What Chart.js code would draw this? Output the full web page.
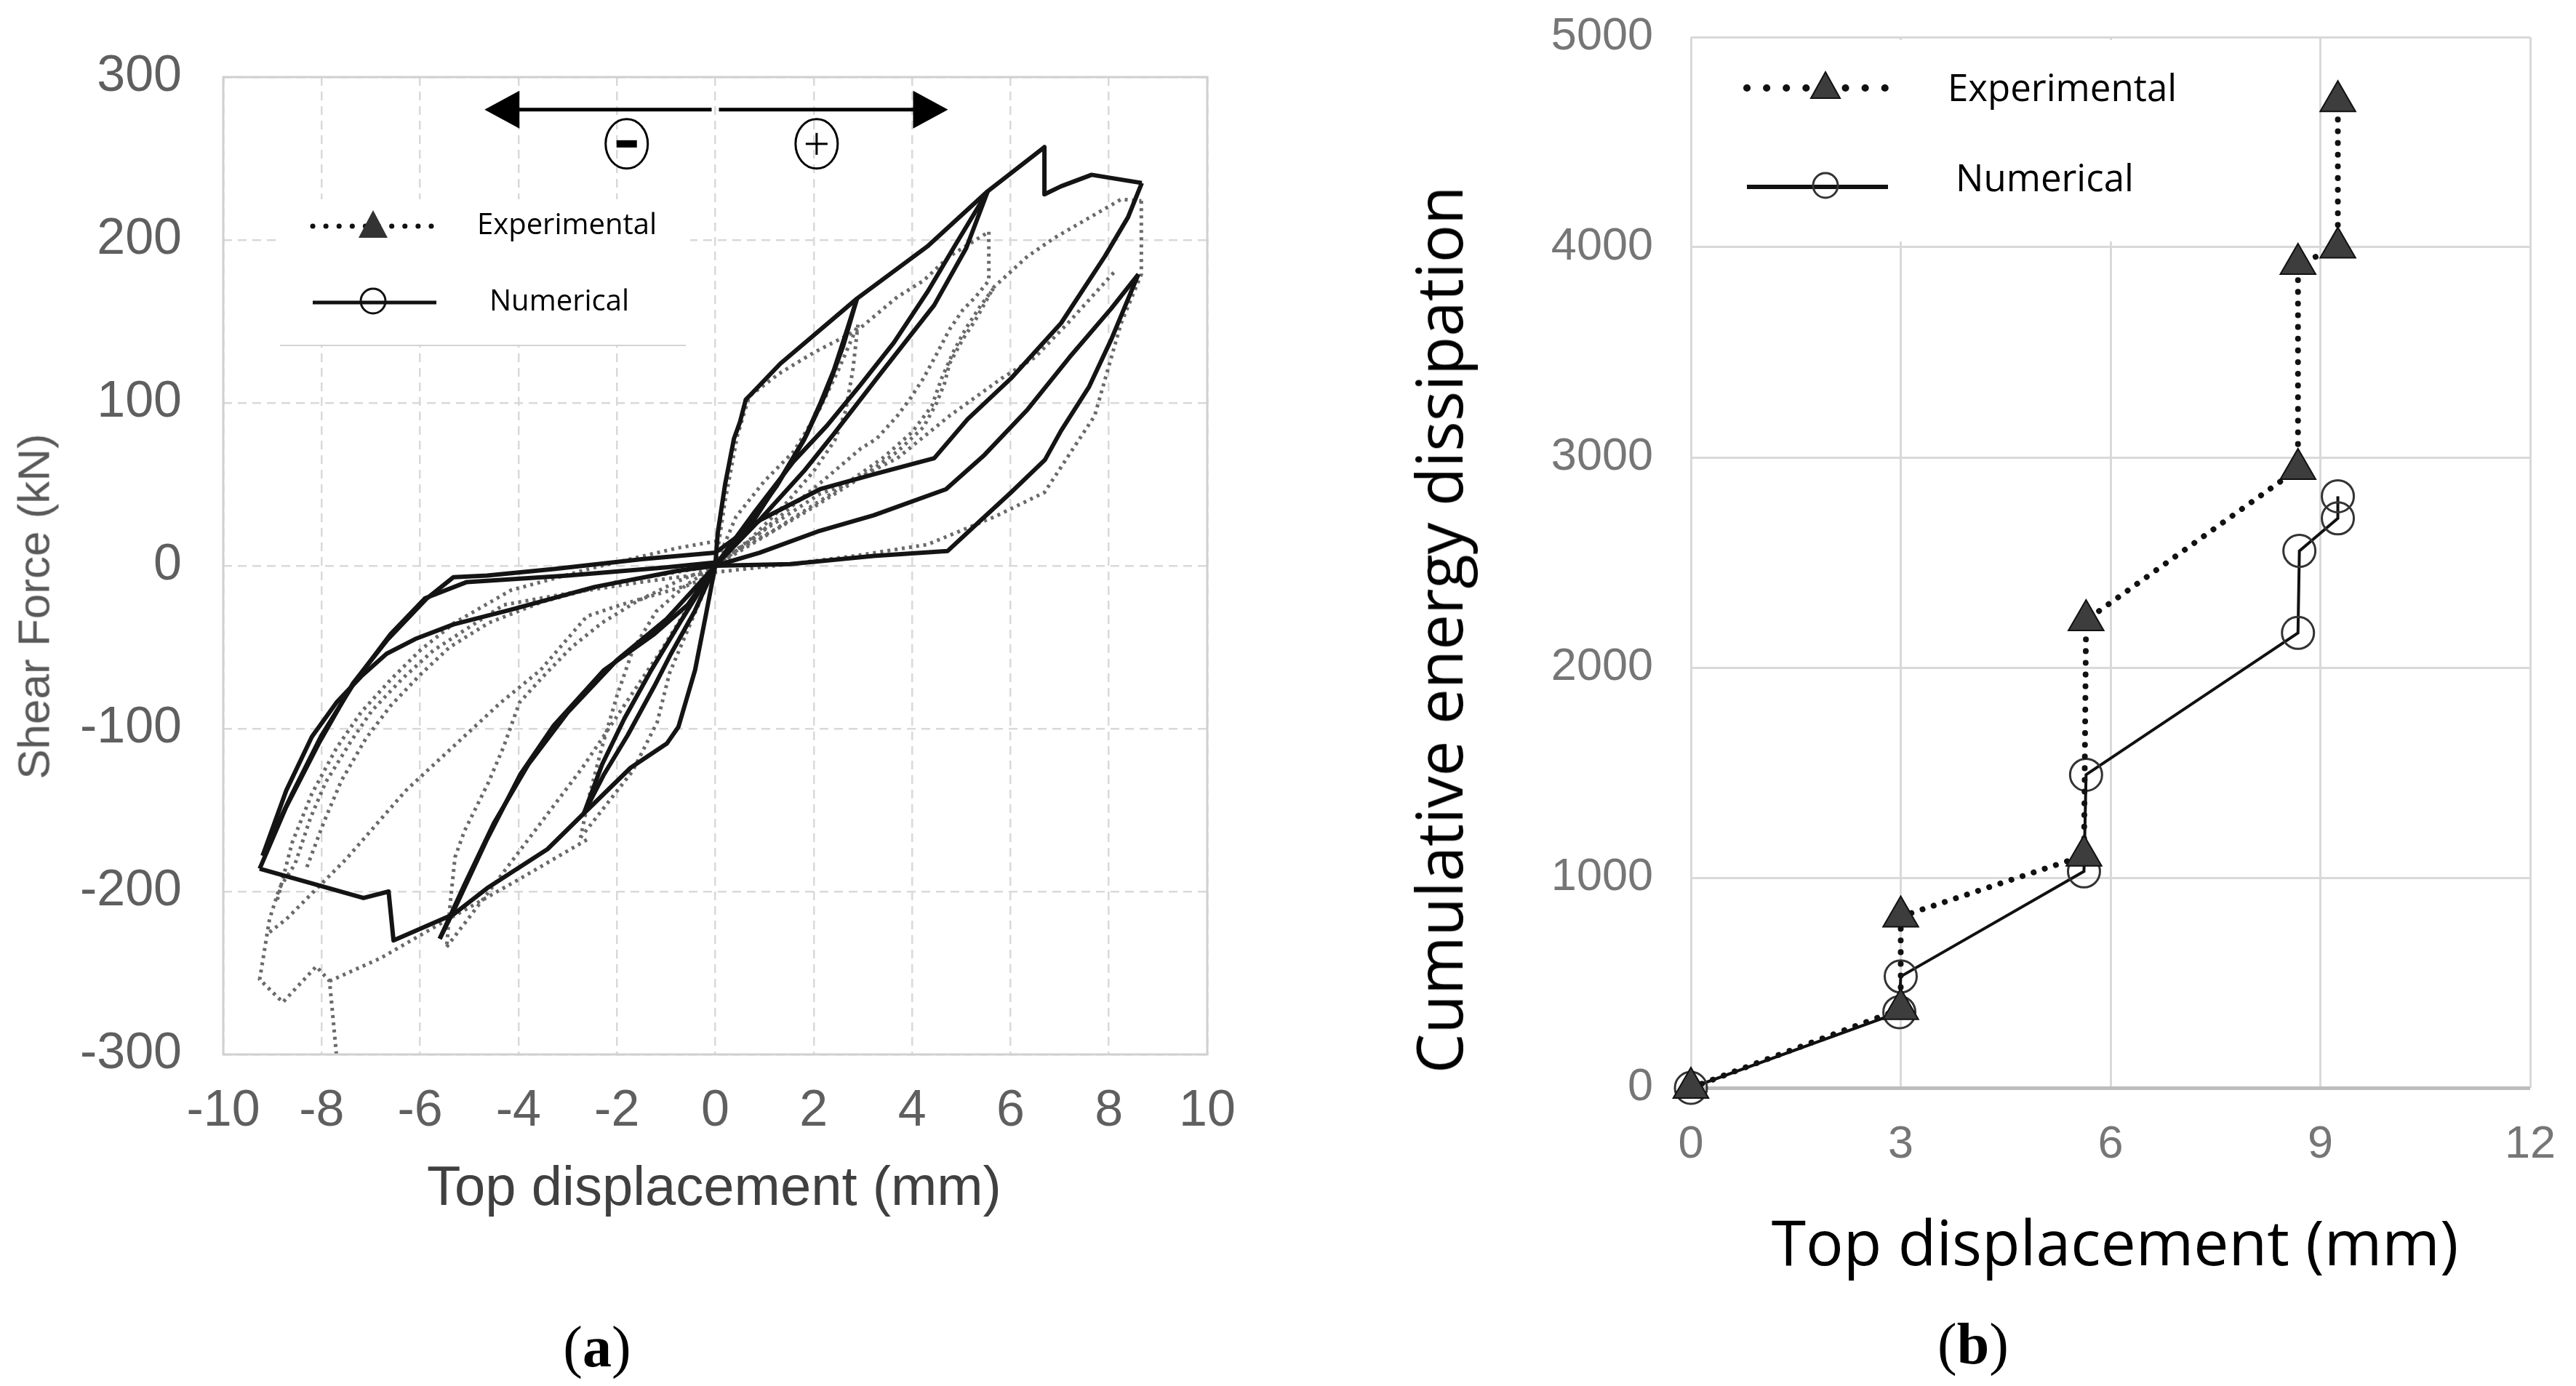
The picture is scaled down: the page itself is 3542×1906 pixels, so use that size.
<!DOCTYPE html>
<html lang="en">
<head>
<meta charset="UTF-8">
<title>Shear force hysteresis and cumulative energy dissipation</title>
<script src="https://cdn.jsdelivr.net/npm/chart.js"></script>
<style>
  body { margin: 0; width: 3542px; height: 1906px; background: #fff; position: relative; overflow: hidden; }
  .box { position: absolute; }
  .txt { position: absolute; white-space: nowrap; line-height: 1; color: #000; }
  .rot { transform: translate(-50%, -50%) rotate(-90deg); }
  .ctr { transform: translate(-50%, -50%); }
</style>
</head>
<body>
<div class="box" style="left:0;top:0;width:1760px;height:1600px"><canvas id="chartA"></canvas></div>
<div class="box" style="left:1900px;top:0;width:1642px;height:1650px"><canvas id="chartB"></canvas></div>

<!-- (a) texts -->
<div class="txt rot" style="left:46px;top:834px;font:62px 'Liberation Sans',Arial,sans-serif;color:#595959">Shear Force (kN)</div>
<div class="txt ctr" style="left:982px;top:1630px;font:76px 'Liberation Sans',Arial,sans-serif;color:#404040">Top displacement (mm)</div>
<div class="txt" style="left:656px;top:279px;font:40px 'Open Sans',sans-serif">Experimental</div>
<div class="txt" style="left:673px;top:384px;font:40px 'Open Sans',sans-serif">Numerical</div>
<div class="txt ctr" style="left:821px;top:1852px;font:80px 'Liberation Serif',serif">(<b>a</b>)</div>

<!-- (b) texts -->
<div class="txt rot" style="left:1977px;top:866px;font:87px 'Open Sans',sans-serif">Cumulative energy dissipation</div>
<div class="txt ctr" style="left:2908px;top:1706px;font:86px 'Open Sans',sans-serif">Top displacement (mm)</div>
<div class="txt" style="left:2678px;top:84px;font:51px 'Open Sans',sans-serif">Experimental</div>
<div class="txt" style="left:2689px;top:208px;font:51px 'Open Sans',sans-serif">Numerical</div>
<div class="txt ctr" style="left:2713px;top:1848px;font:80px 'Liberation Serif',serif">(<b>b</b>)</div>

<script>
// ---- (a) hysteresis, numerical (solid black), [displacement mm, force kN]
const numEnvelopePos = [[0,0],[0.05,20],[0.2,50],[0.38,78],[0.5,88],[0.62,102],[0.75,106],[1.32,124],[2.88,164],[4.31,196],[5.54,230],[6.69,257],[6.69,228],[7.03,233],[7.65,240],[8.26,237],[8.67,235]];
const numEnvelopeNeg = [[0,0],[-0.19,-30],[-0.41,-64],[-0.75,-99],[-0.98,-109],[-1.72,-124],[-2.67,-152],[-3.41,-174],[-4.64,-198],[-5.32,-214],[-6.54,-230],[-6.64,-200],[-7.15,-204],[-9.26,-186]];
const numCycle1Up = [[0,0],[0.7,24],[1.3,52],[1.85,80],[2.25,106],[2.6,135],[2.88,164]];
const numCycle1Down = [[2.88,164],[2.68,145],[2.41,120],[2.14,100],[1.8,77],[1.25,49],[0.57,21],[0,0]];
const numCycle1NegDown = [[0,0],[-0.42,-28],[-0.9,-54],[-1.24,-74],[-1.78,-104],[-2.26,-128],[-2.67,-152]];
const numCycle1NegUp = [[-2.67,-152],[-2.3,-122],[-1.85,-94],[-1.3,-64],[-0.7,-34],[0,0]];
const numCycle2Down = [[5.54,230],[4.9,198],[4.31,168],[3.63,137],[2.95,111],[2.27,86],[1.59,64],[0.8,33],[0,0]];
const numCycle2Up = [[0,0],[0.9,28],[1.8,58],[2.41,81],[3.36,118],[4.45,160],[5.1,195],[5.54,230]];
const numCycle2NegDown = [[0,0],[-0.56,-24],[-1.24,-42],[-2.26,-64],[-3.28,-98],[-3.96,-128],[-4.64,-168],[-5.32,-212],[-5.6,-229]];
const numCycle2NegUp = [[-5.6,-229],[-5.1,-196],[-4.5,-158],[-3.8,-122],[-3.0,-90],[-2.0,-58],[-1.0,-33],[0,0]];
const numCycle3Unload = [[8.67,235],[8.39,214],[7.92,190],[7.03,149],[6.01,115],[5.13,90],[4.45,66],[3.2,56],[2.13,47],[0.91,28],[0,8]];
const numCycle3NegOuter = [[0,8],[-1.5,4],[-3.28,-2],[-4.64,-6],[-5.32,-7],[-5.86,-20],[-6.68,-46],[-7.36,-72],[-8.04,-108],[-8.72,-148],[-9.26,-186]];
const numCycle3NegInner = [[-9.2,-178],[-8.6,-140],[-8.0,-104],[-7.3,-70],[-6.6,-42],[-5.9,-20],[-5.05,-10],[-3.0,-6],[-1.0,-1],[0,2]];
const numCycle3NegLower = [[0,0],[-0.75,-3],[-2.45,-13],[-4.15,-27],[-5.32,-36],[-6.1,-45],[-6.68,-54],[-7.2,-68],[-7.7,-84],[-8.2,-105],[-8.72,-138],[-9.2,-178]];
const numCycle3Reload = [[0,0],[1.52,1],[3.22,6],[4.72,9],[5.4,28],[6.01,45],[6.7,65],[7.03,83],[7.6,110],[8.05,139],[8.6,179]];
const numCycle3Return = [[8.6,179],[8.05,158],[7.2,128],[6.35,96],[5.47,68],[4.69,47],[3.22,31],[2.08,21],[0.9,8],[0,0]];

// ---- (a) hysteresis, experimental (grey dotted)
const expCycle1Up = [[0,0],[0.42,30],[1.0,52],[1.59,70],[2.1,95],[2.5,120],[2.9,148]];
const expCycle1Down = [[2.9,148],[2.8,121],[2.65,95],[2.43,77],[2.0,58],[1.4,37],[0.7,16],[0,0]];
const expCycle1NegDown = [[0,0],[-0.6,-12],[-1.2,-28],[-1.68,-52],[-2.0,-80],[-2.3,-111],[-2.55,-140],[-2.74,-167]];
const expCycle1NegUp = [[-2.74,-167],[-2.3,-150],[-1.68,-126],[-1.18,-96],[-0.93,-66],[-0.5,-35],[0,0]];
const expCycle2Up = [[0,0],[0.2,40],[0.45,80],[0.69,104],[1.3,118],[2.01,131],[2.91,145],[3.7,165],[4.23,175],[4.76,190],[5.56,205]];
const expCycle2Down = [[5.56,205],[5.56,175],[5.29,165],[5.03,157],[4.76,145],[4.5,130],[4.23,115],[3.97,103],[3.7,92],[3.28,78],[2.96,72],[2.3,55],[1.5,35],[0.7,15],[0,0]];
const expCycle2NegDown = [[0,0],[-0.8,-10],[-1.6,-22],[-2.3,-35],[-2.92,-50],[-3.5,-68],[-3.98,-84],[-4.3,-111],[-4.61,-133],[-5.1,-163],[-5.29,-179],[-5.39,-208],[-5.46,-234]];
const expCycle2NegUp = [[-5.46,-234],[-4.6,-200],[-3.6,-160],[-2.7,-124],[-1.9,-88],[-1.1,-52],[-0.4,-18],[0,0]];
const expCycle3Up = [[0,0],[1.0,18],[2.0,36],[3.0,55],[3.7,70],[4.23,85],[4.5,100],[4.66,112],[4.76,124],[5.03,139],[5.29,151],[5.66,171],[6.35,190],[6.88,201],[7.62,214],[8.25,225],[8.66,224]];
const expCycle3Up2 = [[0,2],[1.2,22],[2.4,45],[3.4,66],[4.0,82],[4.4,98],[4.6,115],[4.85,132],[5.1,146],[5.4,160],[5.7,172]];
const expCycle3Down = [[8.66,224],[8.66,179],[8.25,149],[7.71,92],[6.69,45],[5.67,30],[4.31,13],[2.82,6],[1.5,1],[0,-4]];
const expCycle3Return = [[8.1,180],[7.2,150],[6.5,128],[5.82,115],[4.76,92],[3.7,66],[2.65,50],[2.12,44],[1.0,22],[0,0]];
const expCycle3NegDown = [[0,-4],[-1.5,-10],[-3.0,-17],[-4.3,-24],[-5.73,-52],[-6.35,-69],[-6.98,-89],[-7.41,-108],[-7.92,-133],[-8.23,-155],[-8.54,-183],[-8.86,-198],[-9.06,-217],[-9.26,-254],[-8.79,-268],[-8.11,-246],[-7.84,-255],[-7.7,-300]];
const expCycle3NegBand = [[-8.3,-185],[-7.95,-157],[-7.6,-132],[-7.1,-106],[-6.6,-86],[-6.0,-67],[-5.4,-50],[-4.6,-35],[-3.5,-22],[-2.0,-10],[0,0]];
const expCycle3NegReturn = [[-7.84,-255],[-6.81,-241],[-5.66,-221],[-3.96,-192],[-2.6,-168]];
const expCycle3Straight = [[-9.06,-225],[-8.72,-217],[-7.5,-180],[-6.29,-138],[-4.36,-84],[-3.55,-64],[-2.61,-31],[-1.92,-24],[-0.56,-12],[0,-5]];
const expCycle3NegInner = [[-8.9,-205],[-8.6,-170],[-8.2,-140],[-7.7,-112],[-7.2,-90],[-6.6,-70],[-6.0,-52],[-5.3,-35],[-4.15,-15],[-2.45,-1],[-0.75,11],[0,15]];

// ---- (b) cumulative energy dissipation
const dispExp = [0, 3.0, 3.0, 5.62, 5.65, 8.68, 8.68, 9.25, 9.25];
const energyExp = [0, 375, 815, 1105, 2225, 2945, 3920, 3998, 4695];
const dispNum = [0, 2.98, 3.0, 5.62, 5.65, 8.68, 8.7, 9.25, 9.25];
const energyNum = [0, 360, 530, 1030, 1490, 2165, 2555, 2710, 2815];

const forceTicks = [-300, -200, -100, 0, 100, 200, 300];
const dispTicksA = [-10, -8, -6, -4, -2, 0, 2, 4, 6, 8, 10];
const dispTicksB = [0, 3, 6, 9, 12];
const energyTicks = [0, 1000, 2000, 3000, 4000, 5000];

const toXY = pts => pts.map(([x, y]) => ({ x, y }));

const numBranches = [numEnvelopePos, numEnvelopeNeg, numCycle1Up, numCycle1Down, numCycle1NegDown, numCycle1NegUp,
  numCycle2Down, numCycle2Up, numCycle2NegDown, numCycle2NegUp, numCycle3Unload, numCycle3NegOuter,
  numCycle3NegInner, numCycle3NegLower, numCycle3Reload, numCycle3Return];
const expBranches = [expCycle1Up, expCycle1Down, expCycle1NegDown, expCycle1NegUp, expCycle2Up, expCycle2Down,
  expCycle2NegDown, expCycle2NegUp, expCycle3Up, expCycle3Up2, expCycle3Down, expCycle3Return, expCycle3NegDown,
  expCycle3NegBand, expCycle3NegReturn, expCycle3Straight, expCycle3NegInner];

const datasetsA = [];
numBranches.forEach(b => datasetsA.push({
  data: toXY(b), showLine: true, pointRadius: 0, borderColor: '#141414', borderWidth: 6,
  borderJoinStyle: 'round', order: 0
}));
expBranches.forEach(b => datasetsA.push({
  data: toXY(b), showLine: true, pointRadius: 0, borderColor: '#6a6a6a', borderWidth: 5,
  borderDash: [4, 6], order: 1
}));

function setTicks(list) {
  return function (scale) { scale.ticks = list.map(v => ({ value: v })); };
}

// legend, frame and the +/- arrows of chart (a)
const decorA = {
  id: 'decorA',
  beforeDatasetsDraw(chart) {
    const { ctx, chartArea: a } = chart;
    ctx.save();
    ctx.fillStyle = '#fff';
    ctx.fillRect(a.left + 78, a.top + 168, 564, 201);
    ctx.strokeStyle = '#d4d4d4';
    ctx.lineWidth = 2;
    ctx.beginPath();
    ctx.moveTo(a.left + 78, a.top + 369);
    ctx.lineTo(a.left + 636, a.top + 369);
    ctx.stroke();
    ctx.restore();
  },
  afterDraw(chart) {
    const { ctx, chartArea: a, scales: { x, y } } = chart;
    ctx.save();
    // frame
    ctx.strokeStyle = '#d0d0d0';
    ctx.lineWidth = 3;
    ctx.strokeRect(a.left, a.top, a.right - a.left, a.bottom - a.top);

    // legend samples
    const lx = a.left + 123, ly1 = a.top + 205, ly2 = a.top + 310;
    ctx.strokeStyle = '#111';
    ctx.lineCap = 'round';
    ctx.lineWidth = 7;
    ctx.setLineDash([0.1, 18]);
    ctx.beginPath(); ctx.moveTo(lx, ly1); ctx.lineTo(lx + 173, ly1); ctx.stroke();
    ctx.setLineDash([]);
    ctx.fillStyle = '#333';
    ctx.beginPath();
    ctx.moveTo(lx + 83, ly1 - 22); ctx.lineTo(lx + 103, ly1 + 16); ctx.lineTo(lx + 63, ly1 + 16);
    ctx.closePath(); ctx.fill();
    ctx.lineCap = 'butt';
    ctx.lineWidth = 5;
    ctx.beginPath(); ctx.moveTo(lx, ly2); ctx.lineTo(lx + 170, ly2); ctx.stroke();
    ctx.lineWidth = 3;
    ctx.beginPath(); ctx.arc(lx + 83, ly2 - 2, 17, 0, Math.PI * 2); ctx.stroke();

    // arrows
    const ya = y.getPixelForValue(280);
    const x0 = x.getPixelForValue(0);
    const xl = x.getPixelForValue(-4.69), xr = x.getPixelForValue(4.73);
    ctx.strokeStyle = '#000';
    ctx.fillStyle = '#000';
    ctx.lineWidth = 5;
    ctx.beginPath();
    ctx.moveTo(xl + 40, ya); ctx.lineTo(x0 - 5, ya);
    ctx.moveTo(x0 + 5, ya); ctx.lineTo(xr - 40, ya);
    ctx.stroke();
    ctx.beginPath();
    ctx.moveTo(xl, ya); ctx.lineTo(xl + 48, ya - 26); ctx.lineTo(xl + 48, ya + 26); ctx.closePath();
    ctx.moveTo(xr, ya); ctx.lineTo(xr - 48, ya - 26); ctx.lineTo(xr - 48, ya + 26); ctx.closePath();
    ctx.fill();

    // circled signs
    const ys = y.getPixelForValue(259);
    const xm = x.getPixelForValue(-1.8), xp = x.getPixelForValue(2.06);
    ctx.lineWidth = 3;
    ctx.beginPath(); ctx.ellipse(xm, ys, 29, 34, 0, 0, Math.PI * 2); ctx.stroke();
    ctx.beginPath(); ctx.ellipse(xp, ys, 29, 34, 0, 0, Math.PI * 2); ctx.stroke();
    ctx.fillRect(xm - 14, ys - 5, 28, 10);
    ctx.fillRect(xp - 15, ys - 1.5, 30, 3);
    ctx.fillRect(xp - 1.5, ys - 15, 3, 30);
    ctx.restore();
  }
};

const tickFontA = { family: "'Liberation Sans', Arial, sans-serif", size: 70 };

new Chart(document.getElementById('chartA'), {
  type: 'scatter',
  data: { datasets: datasetsA },
  options: {
    responsive: true,
    maintainAspectRatio: false,
    animation: false,
    devicePixelRatio: 1,
    layout: { padding: { top: 106, right: 100, bottom: 0, left: 0 } },
    plugins: { legend: { display: false }, tooltip: { enabled: false } },
    scales: {
      x: {
        type: 'linear', min: -10, max: 10,
        afterBuildTicks: setTicks(dispTicksA),
        ticks: { color: '#5f5f5f', font: tickFontA, padding: 37, callback: v => String(v) },
        grid: { color: '#d9d9d9', lineWidth: 2.5, drawTicks: false },
        border: { display: false, dash: [12, 8] },
        afterFit(s) { s.height = 150; s.paddingLeft = 0; s.paddingRight = 0; }
      },
      y: {
        type: 'linear', min: -300, max: 300,
        afterBuildTicks: setTicks(forceTicks),
        ticks: { color: '#5f5f5f', font: tickFontA, padding: 57, callback: v => String(v) },
        grid: { color: '#d9d9d9', lineWidth: 2.5, drawTicks: false },
        border: { display: false, dash: [12, 8] },
        afterFit(s) { s.width = 307; s.paddingTop = 0; s.paddingBottom = 0; }
      }
    }
  },
  plugins: [decorA]
});

// legend of chart (b)
const decorB = {
  id: 'decorB',
  beforeDatasetsDraw(chart) {
    const { ctx, chartArea: a, scales: { x } } = chart;
    ctx.save();
    ctx.fillStyle = '#fff';
    ctx.fillRect(a.left + 4, a.top + 4, x.getPixelForValue(9) - 25 - a.left, 328 - a.top);
    ctx.restore();
  },
  afterDraw(chart) {
    const { ctx } = chart;
    const lx = 502, ly1 = 121, ly2 = 257;
    ctx.save();
    ctx.strokeStyle = '#111';
    ctx.lineCap = 'round';
    ctx.lineWidth = 10;
    ctx.setLineDash([0.1, 27]);
    ctx.beginPath(); ctx.moveTo(lx, ly1); ctx.lineTo(lx + 216, ly1); ctx.stroke();
    ctx.setLineDash([]);
    ctx.fillStyle = '#3d3d3d';
    ctx.lineWidth = 2;
    ctx.beginPath();
    ctx.moveTo(lx + 108, ly1 - 22); ctx.lineTo(lx + 128, ly1 + 14); ctx.lineTo(lx + 88, ly1 + 14);
    ctx.closePath(); ctx.fill(); ctx.stroke();
    ctx.lineCap = 'butt';
    ctx.lineWidth = 6;
    ctx.beginPath(); ctx.moveTo(lx, ly2); ctx.lineTo(lx + 194, ly2); ctx.stroke();
    ctx.strokeStyle = '#333';
    ctx.lineWidth = 3;
    ctx.beginPath(); ctx.arc(lx + 108, ly2 - 2, 17, 0, Math.PI * 2); ctx.stroke();
    ctx.restore();
  }
};

const tickFontB = { family: "'Liberation Sans', Arial, sans-serif", size: 63 };

new Chart(document.getElementById('chartB'), {
  type: 'scatter',
  data: {
    datasets: [
      {
        label: 'Experimental',
        data: dispExp.map((x, i) => ({ x, y: energyExp[i] })),
        showLine: true, borderColor: '#111', borderWidth: 8, borderDash: [0.1, 16], borderCapStyle: 'round',
        pointStyle: 'triangle', pointRadius: 28, pointBackgroundColor: '#3d3d3d',
        pointBorderColor: '#111', pointBorderWidth: 2, clip: false, order: 0
      },
      {
        label: 'Numerical',
        data: dispNum.map((x, i) => ({ x, y: energyNum[i] })),
        showLine: true, borderColor: '#111', borderWidth: 4,
        pointStyle: 'circle', pointRadius: 22, pointBackgroundColor: 'rgba(255,255,255,0)',
        pointBorderColor: '#333', pointBorderWidth: 3, clip: false, order: 1
      }
    ]
  },
  options: {
    responsive: true,
    maintainAspectRatio: false,
    animation: false,
    devicePixelRatio: 1,
    layout: { padding: { top: 51, right: 63, bottom: 0, left: 0 } },
    plugins: { legend: { display: false }, tooltip: { enabled: false } },
    scales: {
      x: {
        type: 'linear', min: 0, max: 12,
        afterBuildTicks: setTicks(dispTicksB),
        ticks: { color: '#767676', font: tickFontB, padding: 41, callback: v => String(v) },
        grid: { color: '#d9d9d9', lineWidth: 3, drawTicks: false },
        border: { display: false },
        afterFit(s) { s.height = 154; s.paddingLeft = 0; s.paddingRight = 0; }
      },
      y: {
        type: 'linear', min: 0, max: 5000,
        afterBuildTicks: setTicks(energyTicks),
        ticks: { color: '#767676', font: tickFontB, padding: 52, callback: v => String(v) },
        grid: {
          color: c => (c.tick && c.tick.value === 0 ? '#bdbdbd' : '#d9d9d9'),
          lineWidth: c => (c.tick && c.tick.value === 0 ? 5 : 3),
          drawTicks: false
        },
        border: { display: false },
        afterFit(s) { s.width = 425; s.paddingTop = 0; s.paddingBottom = 0; }
      }
    }
  },
  plugins: [decorB]
});
</script>
</body>
</html>
